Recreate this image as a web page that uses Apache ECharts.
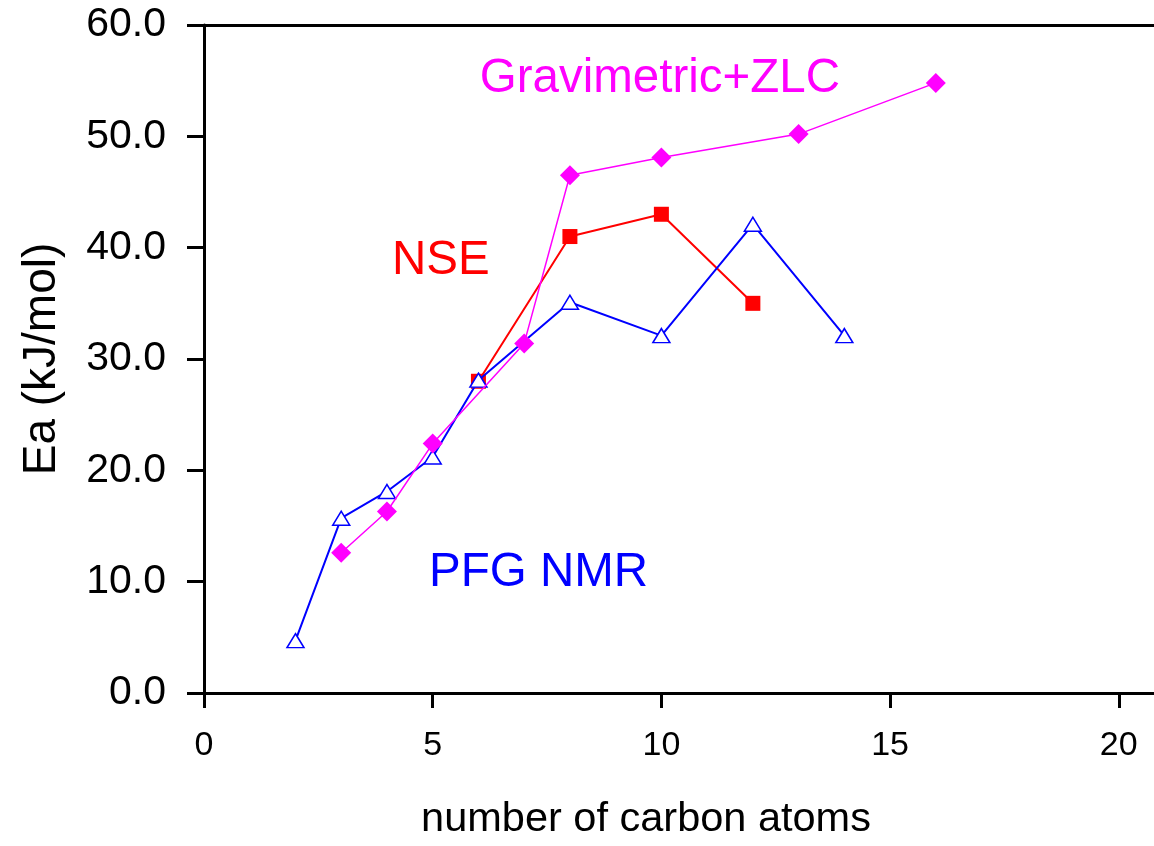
<!DOCTYPE html>
<html>
<head>
<meta charset="utf-8">
<script src="https://cdn.jsdelivr.net/npm/echarts@6/dist/echarts.min.js"></script>
<style>
html,body{margin:0;padding:0;background:#fff;}
#chart{width:1154px;height:846px;}
</style>
</head>
<body>
<div id="chart"></div>
<script>
// ---- data ----
const pfgX = [2, 3, 4, 5, 6, 8, 10, 12, 14];
const pfgY = [4.7, 15.7, 18.1, 21.2, 28.1, 35.1, 32.1, 42.1, 32.1];
const nseX = [6, 8, 10, 12];
const nseY = [28.0, 41.0, 43.0, 35.0];
const gravX = [3, 4, 5, 7, 8, 10, 13, 16];
const gravY = [12.6, 16.3, 22.4, 31.4, 46.5, 48.1, 50.2, 54.8];
const xTicks = [0, 5, 10, 15, 20];
const annotations = [
  {text: 'Gravimetric+ZLC', x: 6.03, y: 55.15, color: '#FF00FF'},
  {text: 'NSE', x: 4.11, y: 38.8, color: '#FF0000'},
  {text: 'PFG NMR', x: 4.92, y: 10.8, color: '#0000FF'}
];

const FONT = 'Liberation Sans, Arial, Helvetica, sans-serif';
const toPairs = (xs, ys) => xs.map((x, i) => [x, ys[i]]);

const chart = echarts.init(document.getElementById('chart'), null, {renderer: 'canvas'});
const axisLine = {show: true, lineStyle: {color: '#000', width: 3}};
const option = {
  animation: false,
  backgroundColor: '#fff',
  grid: {left: 204, right: 0, top: 25, bottom: 148, containLabel: false},
  xAxis: [{
    type: 'value', min: 0, max: 20.77, interval: 5,
    name: 'number of carbon atoms', nameLocation: 'middle', nameGap: 106,
    nameTextStyle: {fontFamily: FONT, fontSize: 41.5, color: '#000', padding: [0, 66, 0, 0]},
    axisLine: axisLine,
    axisTick: {show: true, inside: false, length: 15, lineStyle: {color: '#000', width: 3}, customValues: xTicks},
    axisLabel: {fontFamily: FONT, fontSize: 34, color: '#000', margin: 36, customValues: xTicks},
    splitLine: {show: false}
  }, {
    type: 'value', position: 'top', min: 0, max: 20.77,
    axisLine: axisLine, axisTick: {show: false}, axisLabel: {show: false}, splitLine: {show: false}
  }],
  yAxis: {
    type: 'value', min: 0, max: 60, interval: 10,
    name: 'Ea (kJ/mol)', nameLocation: 'middle', nameGap: 139, nameRotate: 90,
    nameTextStyle: {fontFamily: FONT, fontSize: 46, color: '#000'},
    axisLine: axisLine,
    axisTick: {show: true, length: 17, lineStyle: {color: '#000', width: 3}},
    axisLabel: {fontFamily: FONT, fontSize: 41, color: '#000', margin: 38,
      formatter: v => v.toFixed(1)},
    splitLine: {show: false}
  },
  series: [
    {
      name: 'PFG NMR', type: 'line', data: toPairs(pfgX, pfgY),
      symbol: 'triangle', symbolSize: [17, 14], showAllSymbol: true,
      lineStyle: {color: '#0000FF', width: 2},
      itemStyle: {color: '#FFFFFF', borderColor: '#0000FF', borderWidth: 1.5},
      z: 3
    },
    {
      name: 'NSE', type: 'line', data: toPairs(nseX, nseY),
      symbol: 'rect', symbolSize: 15, showAllSymbol: true,
      lineStyle: {color: '#FF0000', width: 2},
      itemStyle: {color: '#FF0000', borderWidth: 0},
      z: 2
    },
    {
      name: 'Gravimetric+ZLC', type: 'line', data: toPairs(gravX, gravY),
      symbol: 'diamond', symbolSize: 20, showAllSymbol: true,
      lineStyle: {color: '#FF00FF', width: 1.5},
      itemStyle: {color: '#FF00FF', borderWidth: 0},
      z: 4
    }
  ]
};
chart.setOption(option);

const gfx = annotations.map(a => {
  const p = chart.convertToPixel({xAxisIndex: 0, yAxisIndex: 0}, [a.x, a.y]);
  return {
    type: 'text', x: p[0], y: p[1], silent: true,
    style: {text: a.text, fill: a.color, font: '47.5px ' + FONT, textAlign: 'left', textVerticalAlign: 'middle'}
  };
});
chart.setOption({graphic: gfx});
</script>
</body>
</html>
